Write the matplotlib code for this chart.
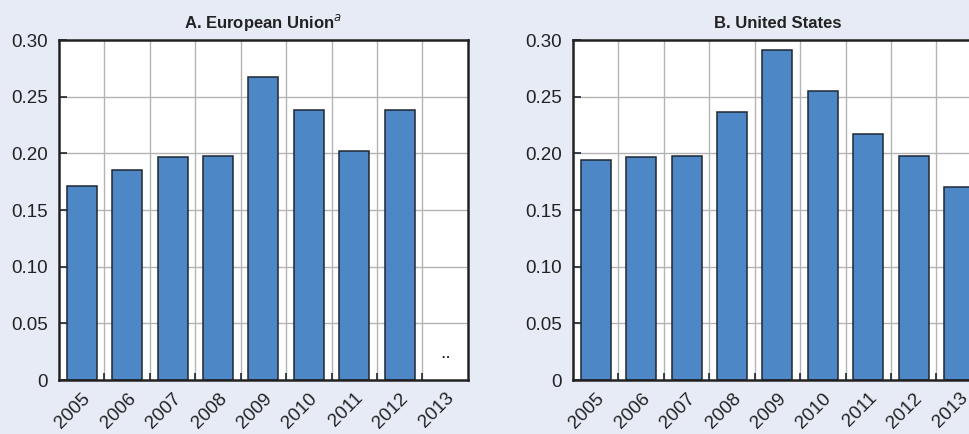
import matplotlib.pyplot as plt
import numpy as np

plt.rcParams["font.family"] = ["Liberation Sans Narrow", "Liberation Sans", "DejaVu Sans"]

years = ["2005", "2006", "2007", "2008", "2009", "2010", "2011", "2012", "2013"]
eu_values = [0.171, 0.185, 0.1965, 0.198, 0.267, 0.238, 0.202, 0.238, np.nan]
us_values = [0.194, 0.1965, 0.198, 0.2365, 0.291, 0.255, 0.217, 0.198, 0.170]
yticks = [0, 0.05, 0.10, 0.15, 0.20, 0.25, 0.30]
ytick_labels = ["0", "0.05", "0.10", "0.15", "0.20", "0.25", "0.30"]

BG = "#e6ebf6"
BAR = "#4d87c6"
EDGE = "#1f2733"
GRID = "#b4b4b4"

fig = plt.figure(figsize=(9.7, 4.34), dpi=100, facecolor=BG)
ax_a = fig.add_axes([0.0608, 0.1244, 0.4216, 0.7834])
ax_b = fig.add_axes([0.5907, 0.1244, 0.4216, 0.7834])


def draw_panel(ax, values, title):
    x = np.arange(len(years))
    ax.set_facecolor("white")
    ax.bar(x, values, width=0.66, color=BAR, edgecolor=EDGE, linewidth=1.1, zorder=3)
    ax.set_xlim(-0.5, len(years) - 0.5)
    ax.set_ylim(0, 0.30)

    # gridlines at category boundaries, behind the bars
    bounds = np.arange(0.5, len(years) - 0.5, 1.0)
    for b in bounds:
        ax.axvline(b, color=GRID, linewidth=1.0, zorder=1)
    for t in yticks[1:-1]:
        ax.axhline(t, color=GRID, linewidth=1.0, zorder=1)

    ax.set_yticks(yticks)
    ax.set_yticklabels(ytick_labels, fontsize=13.5, color="#222222")
    ax.tick_params(axis="y", direction="in", length=6, width=1.2, color=EDGE, pad=8)

    ax.set_xticks(bounds, minor=True)
    ax.set_xticks(x)
    ax.set_xticklabels(years, rotation=45, ha="right", rotation_mode="anchor",
                       fontsize=13.5, color="#222222")
    ax.tick_params(axis="x", which="major", length=0, pad=7)
    ax.tick_params(axis="x", which="minor", direction="in", length=5, width=1.2, color=EDGE)

    for side in ["top", "bottom", "left", "right"]:
        ax.spines[side].set_color("#222222")
        ax.spines[side].set_linewidth(1.8)
        ax.spines[side].set_zorder(5)

    ax.set_title(title, fontsize=12, fontweight="bold", color="#222222", pad=9)

    # missing observations are marked with ".."
    for xi, v in zip(x, values):
        if np.isnan(v):
            ax.text(xi, 0.016, "..", ha="center", va="bottom", fontsize=14, color="#222222")


draw_panel(ax_a, eu_values, r"A. European Union$^{\it a}$")
draw_panel(ax_b, us_values, "B. United States")

fig.savefig("out.png", dpi=100, facecolor=BG)
